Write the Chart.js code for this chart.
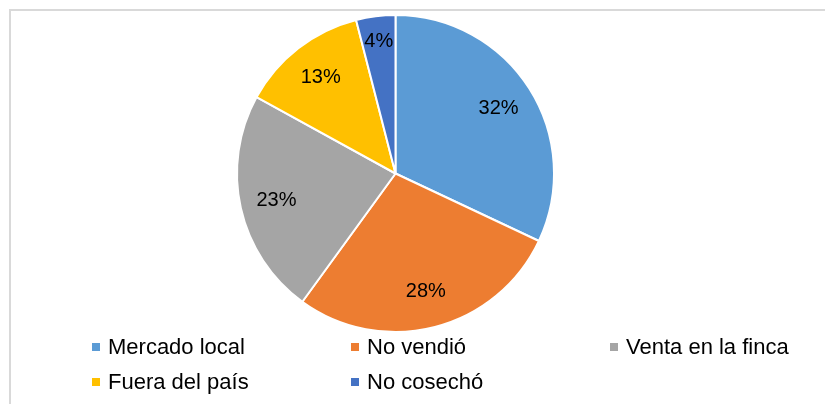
<!DOCTYPE html>
<html>
<head>
<meta charset="utf-8">
<script src="https://cdn.jsdelivr.net/npm/chart.js@4.4.0/dist/chart.umd.min.js"></script>
<style>
  html, body { margin: 0; padding: 0; background: #fff; overflow: hidden; }
  #wrap { position: relative; width: 825px; height: 404px; overflow: hidden; }
  #frame { position: absolute; left: 9px; top: 9px; width: 900px; height: 500px; border: 2px solid #d9d9d9; }
  #chart { position: absolute; left: 0; top: 0; }
  #legend { position: absolute; left: 92px; top: 329px; display: grid; grid-template-columns: 259px 259px 259px; grid-auto-rows: 35px;
            font-family: "Liberation Sans", Arial, sans-serif; font-size: 22px; color: #000; }
  .item { display: flex; align-items: center; white-space: nowrap; }
  .box { width: 8px; height: 8px; margin-right: 8px; flex: none; }
</style>
</head>
<body>
<div id="wrap">
  <div id="frame"></div>
  <canvas id="chart" width="825" height="404"></canvas>
  <div id="legend"></div>
</div>
<script>
const categories = ["Mercado local", "No vendió", "Venta en la finca", "Fuera del país", "No cosechó"];
const shares = [32, 28, 23, 13, 4];
const colors = ["#5b9bd5", "#ed7d31", "#a5a5a5", "#ffc000", "#4472c4"];

// percent labels inside the slices
const sliceLabels = {
  id: 'sliceLabels',
  afterDatasetsDraw(chart) {
    const { ctx } = chart;
    const meta = chart.getDatasetMeta(0);
    ctx.save();
    ctx.font = '20px "Liberation Sans", Arial, sans-serif';
    ctx.fillStyle = '#000';
    ctx.textAlign = 'center';
    ctx.textBaseline = 'middle';
    meta.data.forEach((arc, i) => {
      const p = arc.getProps(['x', 'y', 'startAngle', 'endAngle', 'outerRadius'], true);
      const mid = (p.startAngle + p.endAngle) / 2;
      const f = shares[i] < 5 ? 0.84 : 0.77;
      ctx.fillText(shares[i] + '%', p.x + Math.cos(mid) * p.outerRadius * f, p.y + Math.sin(mid) * p.outerRadius * f);
    });
    ctx.restore();
  }
};

const chart = new Chart(document.getElementById('chart'), {
  type: 'pie',
  data: {
    labels: categories,
    datasets: [{
      data: shares,
      backgroundColor: colors,
      borderColor: '#fff',
      borderWidth: 2
    }]
  },
  options: {
    responsive: false,
    animation: false,
    layout: { padding: { left: 236, right: 270, top: 14, bottom: 71 } },
    plugins: { legend: { display: false }, tooltip: { enabled: false } }
  },
  plugins: [sliceLabels]
});

// html legend in fixed columns
const legend = document.getElementById('legend');
categories.forEach((name, i) => {
  const item = document.createElement('div');
  item.className = 'item';
  item.innerHTML = '<span class="box" style="background:' + colors[i] + '"></span>' + name;
  legend.appendChild(item);
});
</script>
</body>
</html>
